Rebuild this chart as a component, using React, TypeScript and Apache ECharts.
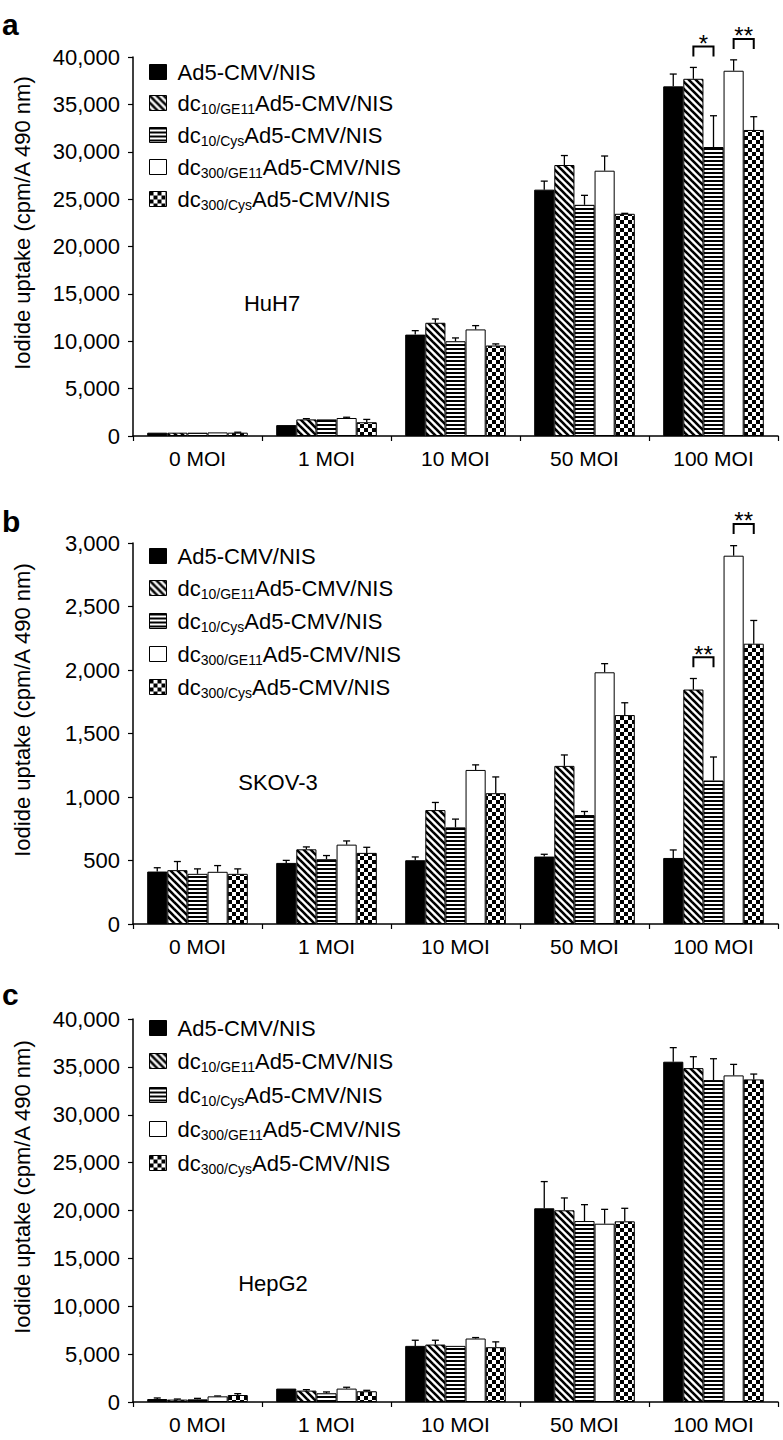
import React, { useEffect, useRef } from 'react';
import * as echarts from 'echarts';

const FONT = '"Liberation Sans", Arial, Helvetica, sans-serif';

// ---- Data ----
const categories = ['0 MOI', '1 MOI', '10 MOI', '50 MOI', '100 MOI'];
const seriesNames = [
  'Ad5-CMV/NIS',
  'dc10/GE11Ad5-CMV/NIS',
  'dc10/CysAd5-CMV/NIS',
  'dc300/GE11Ad5-CMV/NIS',
  'dc300/CysAd5-CMV/NIS',
];
const legendPrefix = ['', 'dc', 'dc', 'dc', 'dc'];
const legendSub = ['', '10/GE11', '10/Cys', '300/GE11', '300/Cys'];
const legendBase = 'Ad5-CMV/NIS';

// HuH7 (panel a): mean per series, per MOI
const huh7Means = [
  [350, 1150, 10700, 26000, 36900],
  [350, 1750, 11950, 28600, 37700],
  [350, 1750, 10000, 24400, 30500],
  [380, 1900, 11250, 28000, 38550],
  [350, 1450, 9550, 23450, 32300],
];
const huh7Sds = [
  [0, 0, 420, 900, 1300],
  [0, 80, 400, 1000, 1200],
  [0, 0, 350, 1000, 3300],
  [0, 80, 400, 1550, 1150],
  [50, 300, 170, 50, 1400],
];
// SKOV-3 (panel b)
const skov3Means = [
  [413, 481, 502, 531, 520],
  [424, 588, 897, 1245, 1846],
  [395, 510, 761, 858, 1130],
  [411, 625, 1213, 1982, 2900],
  [395, 560, 1030, 1645, 2207],
];
const skov3Sds = [
  [30, 20, 26, 18, 63],
  [68, 19, 60, 86, 87],
  [39, 29, 65, 28, 185],
  [49, 29, 40, 68, 79],
  [39, 44, 128, 97, 183],
];
// HepG2 (panel c)
const hepg2Means = [
  [310, 1400, 5860, 20230, 35540],
  [250, 1190, 6000, 20020, 34870],
  [280, 910, 5860, 18900, 33620],
  [590, 1400, 6630, 18620, 34110],
  [730, 1120, 5720, 18870, 33690],
];
const hepg2Sds = [
  [110, 0, 590, 2790, 1470],
  [60, 100, 450, 1290, 1190],
  [100, 140, 0, 1710, 2230],
  [40, 140, 100, 1500, 1150],
  [140, 100, 560, 1360, 560],
];
// significance brackets: [category, seriesA, seriesB, bracket level (y value), label]
const huh7Brackets: [number, number, number, number, string][] = [
  [4, 1, 2, 41100, '*'],
  [4, 3, 4, 41900, '**'],
];
const skov3Brackets: [number, number, number, number, string][] = [
  [4, 1, 2, 2100, '**'],
  [4, 3, 4, 3150, '**'],
];
const hepg2Brackets: [number, number, number, number, string][] = [];

const yAxisTitle = 'Iodide uptake (cpm/A 490 nm)';

// ---- Layout ----
const GAP = 0.22;
const panels = [
  { letter: 'a', cell: 'HuH7', means: huh7Means, sds: huh7Sds, brackets: huh7Brackets, max: 40000, interval: 5000,
    top: 57, height: 379, letterY: 24, cellX: 272, cellY: 303, nameY: 223, legendTop: 60, legendGap: 6 },
  { letter: 'b', cell: 'SKOV-3', means: skov3Means, sds: skov3Sds, brackets: skov3Brackets, max: 3000, interval: 500,
    top: 543, height: 381, letterY: 521, cellX: 278, cellY: 782, nameY: 710, legendTop: 544, legendGap: 7 },
  { letter: 'c', cell: 'HepG2', means: hepg2Means, sds: hepg2Sds, brackets: hepg2Brackets, max: 40000, interval: 5000,
    top: 1019, height: 383, letterY: 994, cellX: 273, cellY: 1283, nameY: 1187, legendTop: 1016, legendGap: 8 },
];

function makePattern(kind: string): any {
  const c = document.createElement('canvas');
  let w = 8, h = 8;
  if (kind === 'diag') { w = 7; h = 7; }
  if (kind === 'horiz') { w = 4; h = 4; }
  c.width = w; c.height = h;
  const ctx = c.getContext('2d')!;
  ctx.fillStyle = '#fff';
  ctx.fillRect(0, 0, w, h);
  ctx.fillStyle = '#000';
  ctx.strokeStyle = '#000';
  if (kind === 'diag') {
    ctx.lineWidth = 2.6;
    for (const o of [-7, 0, 7]) {
      ctx.beginPath();
      ctx.moveTo(o - 1, -1);
      ctx.lineTo(o + 8, 8);
      ctx.stroke();
    }
  } else if (kind === 'horiz') {
    ctx.fillRect(0, 0, 4, 2);
  } else if (kind === 'check') {
    ctx.fillRect(0, 0, 4, 4);
    ctx.fillRect(4, 4, 4, 4);
  }
  return { image: c.toDataURL(), repeat: 'repeat', imageWidth: w, imageHeight: h };
}

function buildOption() {
  const fills: any[] = ['#000', makePattern('diag'), makePattern('horiz'), '#fff', makePattern('check')];

  const grid: any[] = [];
  const xAxis: any[] = [];
  const yAxis: any[] = [];
  const series: any[] = [];
  const legend: any[] = [];
  const graphic: any[] = [];

  panels.forEach((p, pi) => {
    grid.push({ left: 133, width: 645, top: p.top, height: p.height, containLabel: false });
    xAxis.push({
      type: 'category', gridIndex: pi, data: categories,
      axisLine: { lineStyle: { color: '#000', width: 1.5 } },
      axisTick: { show: true, length: 5, interval: 0, lineStyle: { color: '#000', width: 1.2 } },
      axisLabel: { color: '#000', fontSize: 21, fontFamily: FONT, margin: 12, interval: 0 },
      splitLine: { show: false },
    });
    yAxis.push({
      type: 'value', gridIndex: pi, min: 0, max: p.max, interval: p.interval,
      axisLine: { show: true, lineStyle: { color: '#000', width: 1.5 } },
      axisTick: { show: true, length: 5, lineStyle: { color: '#000', width: 1.2 } },
      axisLabel: { color: '#000', fontSize: 22, fontFamily: FONT, margin: 13,
        formatter: (v: number) => v.toLocaleString('en-US') },
      splitLine: { show: false },
    });

    seriesNames.forEach((name, si) => {
      series.push({
        type: 'bar', name, xAxisIndex: pi, yAxisIndex: pi,
        data: p.means[si],
        barGap: '0%', barCategoryGap: (GAP * 100) + '%',
        itemStyle: { color: fills[si], borderColor: '#000', borderWidth: 1 },
        emphasis: { disabled: true },
        silent: true,
      });
    });

    // error bars
    const errData: number[][] = [];
    p.means.forEach((row, si) => row.forEach((m, ci) => {
      if (p.sds[si][ci] > 0) errData.push([ci, si, m, m + p.sds[si][ci]]);
    }));
    series.push({
      type: 'custom', xAxisIndex: pi, yAxisIndex: pi, clip: false, silent: true,
      encode: { x: 0, y: 3 },
      data: errData,
      renderItem: (params: any, api: any) => {
        const ci = api.value(0), si = api.value(1), m = api.value(2), t = api.value(3);
        const band = api.size([1, 0])[0];
        const total = band * (1 - GAP);
        const bw = total / 5;
        const base = api.coord([ci, m]);
        const top = api.coord([ci, t]);
        const x = base[0] - total / 2 + (si + 0.5) * bw;
        return {
          type: 'group',
          children: [
            { type: 'line', shape: { x1: x, y1: base[1], x2: x, y2: top[1] }, style: { stroke: '#000', lineWidth: 1.3 } },
            { type: 'line', shape: { x1: x - 3.5, y1: top[1], x2: x + 3.5, y2: top[1] }, style: { stroke: '#000', lineWidth: 1.3 } },
          ],
        };
      },
    });

    // significance brackets
    if (p.brackets.length) {
      const br = p.brackets;
      series.push({
        type: 'custom', xAxisIndex: pi, yAxisIndex: pi, clip: false, silent: true,
        encode: { x: 0, y: 3 },
        data: br.map((b) => [b[0], b[1], b[2], b[3]]),
        renderItem: (params: any, api: any) => {
          const ci = api.value(0), a = api.value(1), b = api.value(2), lvl = api.value(3);
          const band = api.size([1, 0])[0];
          const total = band * (1 - GAP);
          const bw = total / 5;
          const c = api.coord([ci, lvl]);
          const xa = c[0] - total / 2 + (a + 0.5) * bw;
          const xb = c[0] - total / 2 + (b + 0.5) * bw;
          const label = br[params.dataIndex][4];
          return {
            type: 'group',
            children: [
              { type: 'polyline', shape: { points: [[xa, c[1] + 10], [xa, c[1]], [xb, c[1]], [xb, c[1] + 10]] },
                style: { stroke: '#000', lineWidth: 2, fill: null } },
              { type: 'text', x: (xa + xb) / 2, y: c[1] - 3,
                style: { text: label, fontSize: 24, fontFamily: FONT, fill: '#000', align: 'center', verticalAlign: 'middle' } },
            ],
          };
        },
      });
    }

    legend.push({
      orient: 'vertical', left: 149, top: p.legendTop, padding: 0,
      itemWidth: 17, itemHeight: 15, itemGap: p.legendGap, icon: 'rect',
      selectedMode: false, data: seriesNames,
      itemStyle: { borderColor: '#000', borderWidth: 1 },
      textStyle: {
        color: '#000', fontFamily: FONT, fontSize: 22, lineHeight: 24,
        rich: {
          g: { width: 6, fontSize: 22, lineHeight: 24 },
          m: { fontSize: 22, lineHeight: 24, fontFamily: FONT, color: '#000' },
          s: { fontSize: 14, lineHeight: 24, fontFamily: FONT, color: '#000', padding: [12, 0, 0, 0] },
        },
      },
      formatter: (name: string) => {
        const i = seriesNames.indexOf(name);
        if (!legendSub[i]) return `{g| }{m|${legendBase}}`;
        return `{g| }{m|${legendPrefix[i]}}{s|${legendSub[i]}}{m|${legendBase}}`;
      },
    });

    graphic.push({
      type: 'text', left: 2, top: p.letterY - 15,
      style: { text: p.letter, fontSize: 30, fontWeight: 'bold', fontFamily: FONT, fill: '#000' },
    });
    graphic.push({
      type: 'text', x: p.cellX, y: p.cellY,
      style: { text: p.cell, fontSize: 22, fontFamily: FONT, fill: '#000', align: 'center', verticalAlign: 'middle' },
    });
    graphic.push({
      type: 'text', x: 22, y: p.nameY, rotation: Math.PI / 2,
      style: { text: yAxisTitle, fontSize: 22, fontFamily: FONT, fill: '#000', align: 'center', verticalAlign: 'middle' },
    });
  });

  return {
    animation: false,
    backgroundColor: '#fff',
    textStyle: { fontFamily: FONT },
    grid, xAxis, yAxis, series, legend, graphic,
  };
}

export default function App() {
  const ref = useRef<HTMLDivElement>(null);
  useEffect(() => {
    const chart = echarts.init(ref.current!, null, { renderer: 'svg' });
    chart.setOption(buildOption() as any);
    return () => chart.dispose();
  }, []);
  return (
    <div
      ref={ref}
      style={{ position: 'absolute', left: 0, top: 0, width: 783, height: 1440, background: '#fff' }}
    />
  );
}
